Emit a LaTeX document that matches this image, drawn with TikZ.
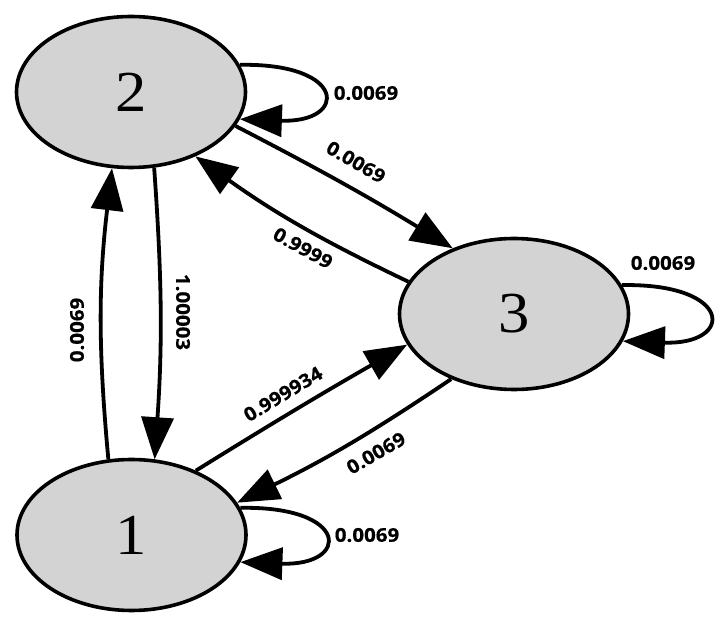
\documentclass[tikz,border=0pt]{standalone}
\usepackage{fontspec}
\setmainfont{Liberation Serif}
\newfontfamily\lblfont[FakeStretch=1.08,FakeBold=0.6]{Open Sans}
\newfontfamily\numfont[FakeStretch=1.08]{Liberation Serif}
\usetikzlibrary{shapes.geometric,arrows.meta}
\definecolor{statefill}{RGB}{211,211,211}
\begin{document}
\begin{tikzpicture}[x=1pt,y=1pt,
  state/.style={ellipse, draw=black, line width=3.6pt, fill=statefill,
    minimum width=229pt, minimum height=151pt, inner sep=0pt,
    font=\numfont\fontsize{58}{58}\selectfont},
  edge/.style={line width=3.8pt, -{Triangle[length=42pt,width=32pt]}},
  lbl/.style={font=\lblfont\bfseries\fontsize{19}{19}\selectfont, inner sep=1pt}]
\useasboundingbox[fill=white] (0,0) rectangle (723,629);

\node[state] (n2) at (131,537) {2};
\node[state] (n1) at (131.5,94) {1};
\node[state] (n3) at (514,315) {3};

% self loops
\draw[edge] (n2.14) .. controls +(108,2) and +(108,-4) .. (n2.-14);
\draw[edge] (n3.15) .. controls +(112,2) and +(112,-4) .. (n3.-14);
\draw[edge] (n1.14) .. controls +(110,2) and +(110,-4) .. (n1.-14);

% edges
\draw[edge] (n2.-18) to[bend left=2] (n3.133);
\draw[edge] (n3.163) to[bend left=5] (n2.-45);
\draw[edge] (n1.107) to[bend left=6] (n2.-104);
\draw[edge] (n2.-73) to[bend left=4] (n1.73);
\draw[edge] (n1.45) to[bend left=1] (n3.196);
\draw[edge] (n3.226) to[bend left=4] (n1.17);

% labels
\node[lbl] (l22) at (366,536) {0.0069};
\node[lbl, rotate=-30] (l23) at (356,467) {0.0069};
\node[lbl, rotate=-29] (l32) at (303,381) {0.9999};
\node[lbl, rotate=90] (l12) at (77,299) {0.0069};
\node[lbl, rotate=-90] (l21) at (183,317) {1.00003};
\node[lbl] (l33) at (663,366) {0.0069};
\node[lbl, rotate=31] (l13) at (283,235) {0.999934};
\node[lbl, rotate=30] (l31) at (376,176) {0.0069};
\node[lbl] (l11) at (367,94) {0.0069};
\end{tikzpicture}
\end{document}
